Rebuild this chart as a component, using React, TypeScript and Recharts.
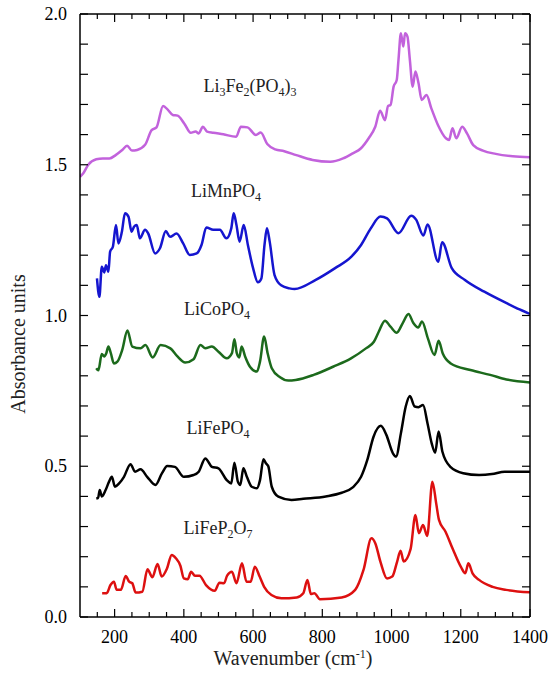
import React from 'react'
import { LineChart, Line, XAxis, YAxis } from 'recharts'

const SERIF = '"Liberation Serif", "Times New Roman", serif'

type Pt = [number, number] // [wavenumber cm-1, absorbance]

const LI3FE2PO43: Pt[] = [
  [100, 1.46], [109, 1.471], [124, 1.5], [147, 1.518], [166, 1.521], [185, 1.521], [203, 1.532],
  [222, 1.549], [236, 1.563], [250, 1.547], [265, 1.549], [288, 1.566], [307, 1.615], [321, 1.624],
  [340, 1.695], [354, 1.682], [368, 1.665], [382, 1.663], [401, 1.637], [420, 1.606], [434, 1.61],
  [443, 1.604], [455, 1.626], [467, 1.61], [485, 1.606], [514, 1.601], [551, 1.593], [565, 1.626],
  [584, 1.624], [608, 1.599], [622, 1.607], [641, 1.569], [664, 1.551], [690, 1.545], [725, 1.532],
  [772, 1.516], [823, 1.51], [860, 1.521], [888, 1.538], [911, 1.554], [934, 1.588], [953, 1.626],
  [967, 1.679], [981, 1.648], [990, 1.695], [997, 1.698], [1006, 1.759], [1015, 1.781], [1020, 1.847],
  [1027, 1.936], [1034, 1.892], [1039, 1.936], [1046, 1.925], [1053, 1.847], [1061, 1.759],
  [1069, 1.809], [1078, 1.77], [1087, 1.715], [1101, 1.731], [1115, 1.687], [1134, 1.632],
  [1157, 1.588], [1166, 1.582], [1176, 1.621], [1187, 1.588], [1204, 1.626], [1218, 1.604],
  [1236, 1.565], [1264, 1.547], [1301, 1.536], [1350, 1.528], [1400, 1.525],
]

const LIMNPO4: Pt[] = [
  [149, 1.123], [156, 1.062], [163, 1.162], [170, 1.143], [175, 1.167], [182, 1.145], [187, 1.212],
  [195, 1.228], [204, 1.3], [211, 1.239], [221, 1.278], [230, 1.339], [240, 1.328], [249, 1.278],
  [256, 1.294], [264, 1.3], [273, 1.256], [288, 1.284], [297, 1.272], [317, 1.206], [331, 1.223],
  [348, 1.28], [360, 1.261], [379, 1.272], [398, 1.239], [417, 1.201], [437, 1.206], [451, 1.234],
  [465, 1.292], [485, 1.284], [504, 1.284], [523, 1.256], [537, 1.289], [544, 1.339], [552, 1.3],
  [561, 1.245], [573, 1.3], [585, 1.234], [600, 1.157], [614, 1.11], [624, 1.123], [633, 1.234],
  [640, 1.289], [648, 1.245], [662, 1.134], [681, 1.1], [705, 1.09], [720, 1.088], [781, 1.118],
  [837, 1.157], [884, 1.195], [912, 1.234], [940, 1.289], [968, 1.328], [987, 1.322], [1020, 1.273],
  [1057, 1.331], [1071, 1.318], [1092, 1.265], [1104, 1.302], [1135, 1.178], [1146, 1.243],
  [1174, 1.157], [1212, 1.118], [1268, 1.079], [1334, 1.04], [1370, 1.02], [1400, 1.005],
]

const LICOPO4: Pt[] = [
  [147, 0.825], [153, 0.818], [163, 0.872], [170, 0.864], [176, 0.875], [182, 0.897], [189, 0.875],
  [198, 0.841], [208, 0.847], [222, 0.886], [237, 0.95], [251, 0.897], [275, 0.891], [289, 0.902],
  [310, 0.861], [333, 0.902], [361, 0.891], [380, 0.866], [404, 0.844], [428, 0.855], [448, 0.902],
  [462, 0.891], [481, 0.897], [500, 0.88], [524, 0.858], [539, 0.875], [546, 0.921], [553, 0.875],
  [560, 0.861], [567, 0.897], [577, 0.864], [591, 0.83], [611, 0.814], [620, 0.847], [632, 0.93],
  [642, 0.875], [654, 0.825], [678, 0.795], [702, 0.784], [723, 0.786], [775, 0.803], [831, 0.83],
  [883, 0.858], [926, 0.891], [949, 0.913], [963, 0.946], [981, 0.983], [997, 0.963], [1015, 0.943],
  [1032, 0.974], [1049, 1.005], [1063, 0.975], [1077, 0.96], [1088, 0.98], [1105, 0.924],
  [1124, 0.869], [1136, 0.916], [1148, 0.874], [1171, 0.841], [1228, 0.819], [1285, 0.803],
  [1332, 0.788], [1400, 0.778],
]

const LIFEPO4: Pt[] = [
  [147, 0.394], [152, 0.394], [157, 0.421], [163, 0.4], [174, 0.421], [184, 0.449], [192, 0.465],
  [201, 0.432], [213, 0.443], [227, 0.465], [246, 0.507], [259, 0.482], [275, 0.49], [294, 0.465],
  [318, 0.438], [337, 0.477], [352, 0.501], [374, 0.498], [400, 0.465], [428, 0.471], [443, 0.482],
  [462, 0.526], [481, 0.498], [500, 0.493], [524, 0.454], [537, 0.443], [546, 0.512], [556, 0.449],
  [563, 0.438], [572, 0.493], [582, 0.465], [596, 0.432], [611, 0.427], [620, 0.454], [630, 0.523],
  [637, 0.51], [644, 0.5], [654, 0.432], [673, 0.399], [711, 0.388], [745, 0.392], [810, 0.4],
  [856, 0.412], [888, 0.43], [912, 0.465], [930, 0.521], [948, 0.598], [969, 0.634], [985, 0.604],
  [1004, 0.543], [1013, 0.532], [1027, 0.609], [1041, 0.698], [1053, 0.733], [1067, 0.698],
  [1078, 0.696], [1091, 0.703], [1104, 0.642], [1116, 0.576], [1126, 0.545], [1136, 0.615],
  [1147, 0.548], [1170, 0.498], [1207, 0.477], [1253, 0.471], [1290, 0.474], [1327, 0.482],
  [1400, 0.482],
]

const LIFEP2O7: Pt[] = [
  [164, 0.079], [177, 0.079], [188, 0.106], [198, 0.117], [206, 0.09], [218, 0.09], [232, 0.136],
  [242, 0.117], [251, 0.112], [261, 0.081], [280, 0.084], [295, 0.158], [309, 0.132], [324, 0.176],
  [336, 0.134], [351, 0.16], [365, 0.206], [377, 0.195], [390, 0.17], [400, 0.128], [411, 0.125],
  [421, 0.15], [432, 0.137], [445, 0.137], [464, 0.106], [489, 0.087], [503, 0.114], [516, 0.112],
  [525, 0.137], [539, 0.15], [552, 0.112], [568, 0.178], [581, 0.117], [593, 0.117], [605, 0.167],
  [619, 0.134], [632, 0.1], [653, 0.073], [682, 0.062], [726, 0.065], [745, 0.079], [757, 0.123],
  [767, 0.076], [777, 0.079], [793, 0.059], [856, 0.065], [895, 0.09], [919, 0.156], [942, 0.261],
  [953, 0.245], [968, 0.183], [987, 0.128], [1002, 0.134], [1016, 0.183], [1026, 0.22],
  [1035, 0.184], [1055, 0.225], [1069, 0.338], [1079, 0.278], [1091, 0.305], [1103, 0.269],
  [1118, 0.449], [1129, 0.377], [1137, 0.322], [1156, 0.283], [1176, 0.228], [1200, 0.167],
  [1213, 0.145], [1222, 0.178], [1234, 0.145], [1253, 0.123], [1292, 0.1], [1331, 0.09],
  [1400, 0.082],
]

const X_TICKS = [
  150, 200, 250, 300, 350, 400, 450, 500, 550, 600, 650, 700, 750,
  800, 850, 900, 950, 1000, 1050, 1100, 1150, 1200, 1250, 1300, 1350, 1400,
]
const X_LABELED = [200, 400, 600, 800, 1000, 1200, 1400]
const Y_TICKS = [
  0, 0.1, 0.2, 0.3, 0.4, 0.5, 0.6, 0.7, 0.8, 0.9, 1.0,
  1.1, 1.2, 1.3, 1.4, 1.5, 1.6, 1.7, 1.8, 1.9, 2.0,
]
const Y_LABELED = [0, 0.5, 1.0, 1.5, 2.0]

const SERIES = [
  { key: 'li3fe2', data: LI3FE2PO43, color: '#c262dc' },
  { key: 'limn', data: LIMNPO4, color: '#1515cf' },
  { key: 'lico', data: LICOPO4, color: '#1c6a1c' },
  { key: 'life', data: LIFEPO4, color: '#000000' },
  { key: 'lifep2o7', data: LIFEP2O7, color: '#dd1010' },
]

const toRows = (pts: Pt[]) => pts.map(([x, y]) => ({ x, y }))

/* ── tick renderers: ticks point into the plot ───────── */
const BottomTick = ({ x, y, payload }: any) => {
  const major = X_LABELED.includes(payload.value)
  return (
    <g>
      <line x1={x} x2={x} y1={y} y2={y - (major ? 8 : 5)} stroke="#000" strokeWidth={1.2} />
      {major && (
        <text x={x} y={y + 26} textAnchor="middle" fontFamily={SERIF} fontSize={18} fill="#000">
          {payload.value}
        </text>
      )}
    </g>
  )
}

const TopTick = ({ x, y, payload }: any) => {
  const major = X_LABELED.includes(payload.value)
  return <line x1={x} x2={x} y1={y} y2={y + (major ? 8 : 5)} stroke="#000" strokeWidth={1.2} />
}

const LeftTick = ({ x, y, payload }: any) => {
  const labeled = Y_LABELED.some(v => Math.abs(v - payload.value) < 1e-6)
  return (
    <g>
      <line x1={x} x2={x + 8} y1={y} y2={y} stroke="#000" strokeWidth={1.2} />
      {labeled && (
        <text x={x - 13} y={y + 6} textAnchor="end" fontFamily={SERIF} fontSize={18} fill="#000">
          {payload.value.toFixed(1)}
        </text>
      )}
    </g>
  )
}

const RightTick = ({ x, y }: any) => (
  <line x1={x} x2={x - 8} y1={y} y2={y} stroke="#000" strokeWidth={1.2} />
)

const AXIS_LINE = { stroke: '#000', strokeWidth: 1.5 }

/* ── series labels (centre x, centre y in px) ────────── */
const labelStyle = (cx: number, cy: number): React.CSSProperties => ({
  position: 'absolute',
  left: cx,
  top: cy,
  transform: 'translate(-50%, -50%)',
  fontFamily: SERIF,
  fontSize: 18,
  color: '#222',
  whiteSpace: 'nowrap',
})

const subStyle: React.CSSProperties = { fontSize: 12, verticalAlign: -4 }

export default function App() {
  return (
    <div style={{ position: 'absolute', left: 0, top: 0, width: 549, height: 675, background: '#fff' }}>
      <LineChart width={549} height={675} margin={{ top: 0, right: 0, bottom: 0, left: 0 }}>
        <XAxis
          xAxisId="b" type="number" dataKey="x" domain={[100, 1400]} allowDataOverflow
          ticks={X_TICKS} interval={0} tickSize={0} tickMargin={0} tickLine={false}
          height={58} axisLine={AXIS_LINE} tick={BottomTick}
        />
        <XAxis
          xAxisId="t" orientation="top" type="number" dataKey="x" domain={[100, 1400]} allowDataOverflow
          ticks={X_TICKS} interval={0} tickSize={0} tickMargin={0} tickLine={false}
          height={14} axisLine={AXIS_LINE} tick={TopTick}
        />
        <YAxis
          yAxisId="l" type="number" domain={[0, 2]} allowDataOverflow
          ticks={Y_TICKS} interval={0} tickSize={0} tickMargin={0} tickLine={false}
          width={80} axisLine={AXIS_LINE} tick={LeftTick}
        />
        <YAxis
          yAxisId="r" orientation="right" type="number" domain={[0, 2]} allowDataOverflow
          ticks={Y_TICKS} interval={0} tickSize={0} tickMargin={0} tickLine={false}
          width={19} axisLine={AXIS_LINE} tick={RightTick}
        />
        {SERIES.map(s => (
          <Line
            key={s.key}
            xAxisId="b"
            yAxisId="l"
            data={toRows(s.data)}
            dataKey="y"
            type="monotone"
            stroke={s.color}
            strokeWidth={2.5}
            dot={false}
            activeDot={false}
            isAnimationActive={false}
          />
        ))}
      </LineChart>

      <div style={labelStyle(250, 88)}>
        Li<sub style={subStyle}>3</sub>Fe<sub style={subStyle}>2</sub>(PO<sub style={subStyle}>4</sub>)<sub style={subStyle}>3</sub>
      </div>
      <div style={labelStyle(226, 193)}>
        LiMnPO<sub style={subStyle}>4</sub>
      </div>
      <div style={labelStyle(217, 311)}>
        LiCoPO<sub style={subStyle}>4</sub>
      </div>
      <div style={labelStyle(218, 430)}>
        LiFePO<sub style={subStyle}>4</sub>
      </div>
      <div style={labelStyle(218, 530)}>
        LiFeP<sub style={subStyle}>2</sub>O<sub style={subStyle}>7</sub>
      </div>

      <div
        style={{
          position: 'absolute', left: 18, top: 344, transform: 'translate(-50%, -50%) rotate(-90deg)',
          fontFamily: SERIF, fontSize: 20, color: '#222', whiteSpace: 'nowrap',
        }}
      >
        Absorbance units
      </div>
      <div
        style={{
          position: 'absolute', left: 293, top: 658, transform: 'translate(-50%, -50%)',
          fontFamily: SERIF, fontSize: 20, color: '#222', whiteSpace: 'nowrap',
        }}
      >
        Wavenumber (cm<sup style={{ fontSize: 12, verticalAlign: 7 }}>-1</sup>)
      </div>
    </div>
  )
}
